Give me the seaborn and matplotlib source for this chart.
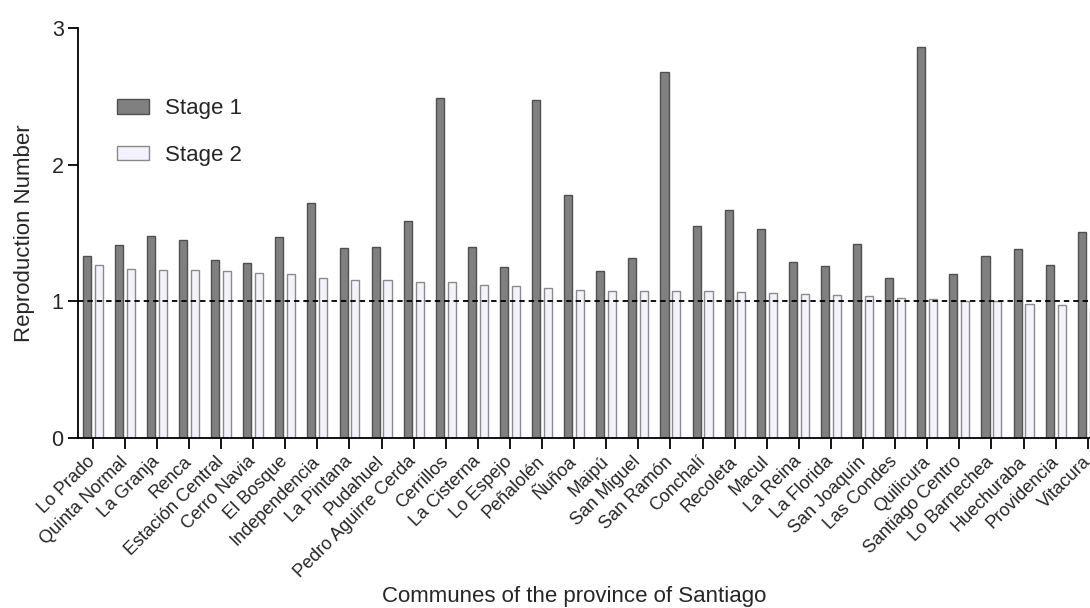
import matplotlib
matplotlib.use("Agg")
import matplotlib.pyplot as plt
import seaborn as sns
import pandas as pd
from matplotlib.patches import Patch

communes = [
    "Lo Prado", "Quinta Normal", "La Granja", "Renca", "Estación Central",
    "Cerro Navia", "El Bosque", "Independencia", "La Pintana", "Pudahuel",
    "Pedro Aguirre Cerda", "Cerrillos", "La Cisterna", "Lo Espejo", "Peñalolén",
    "Ñuñoa", "Maipú", "San Miguel", "San Ramón", "Conchalí", "Recoleta",
    "Macul", "La Reina", "La Florida", "San Joaquín", "Las Condes",
    "Quilicura", "Santiago Centro", "Lo Barnechea", "Huechuraba",
    "Providencia", "Vitacura",
]
stage1 = [
    1.33, 1.41, 1.48, 1.45, 1.30, 1.28, 1.47, 1.72, 1.39, 1.40,
    1.59, 2.49, 1.40, 1.25, 2.47, 1.78, 1.22, 1.32, 2.68, 1.55, 1.67,
    1.53, 1.29, 1.26, 1.42, 1.17, 2.86, 1.20, 1.33, 1.38, 1.27, 1.51,
]
stage2 = [
    1.27, 1.24, 1.23, 1.23, 1.225, 1.21, 1.20, 1.17, 1.16, 1.155,
    1.14, 1.14, 1.12, 1.11, 1.095, 1.085, 1.08, 1.08, 1.08, 1.075, 1.07,
    1.065, 1.055, 1.05, 1.04, 1.025, 1.02, 1.005, 1.00, 0.985, 0.975, 0.95,
]
stages = ["Stage 1", "Stage 2"]

df = pd.DataFrame({
    "Commune": communes * 2,
    "R": stage1 + stage2,
    "Stage": [stages[0]] * len(communes) + [stages[1]] * len(communes),
})

sns.set_style("ticks")
plt.rcParams["font.family"] = ["Liberation Sans", "DejaVu Sans"]

fill_colors = {"Stage 1": "#808080", "Stage 2": "#f3f2fd"}
edge_colors = {"Stage 1": "#505050", "Stage 2": "#8a8a8a"}

fig = plt.figure(figsize=(10.9, 6.08), dpi=100)
ax = fig.add_axes([0.0718, 0.279, 1.0 - 0.0718, 0.9544 - 0.279])

sns.barplot(
    data=df, x="Commune", y="R", hue="Stage", order=communes,
    hue_order=stages, palette=fill_colors, width=0.74, gap=0.32,
    linewidth=1.0, ax=ax, legend=False,
)

# per-stage outline colours
for container, stage in zip(ax.containers, stages):
    for bar in container:
        bar.set_edgecolor(edge_colors[stage])

ax.axhline(1.0, color="black", linewidth=1.3, linestyle=(0, (3.0, 2.2)), zorder=3)

ax.set_ylim(0, 3)
ax.set_yticks([0, 1, 2, 3])
ax.set_xlim(-0.45, 31.07)

sns.despine(ax=ax, right=True, top=True)
for side in ("left", "bottom"):
    ax.spines[side].set_linewidth(1.3)
    ax.spines[side].set_color("black")

ax.tick_params(axis="y", length=7.5, width=1.3, labelsize=15.5, pad=3, color="black")
ax.tick_params(axis="x", length=8, width=1.3, labelsize=13, pad=7, color="black")
for lbl in ax.get_xticklabels():
    lbl.set_rotation(45)
    lbl.set_ha("right")
    lbl.set_va("center")
    lbl.set_rotation_mode("anchor")

ax.set_ylabel("Reproduction Number", fontsize=16, labelpad=12)
ax.set_xlabel("Communes of the province of Santiago", fontsize=16)
ax.xaxis.set_label_coords(0.49, -0.386)
ax.xaxis.label.set_va("center")

handles = [
    Patch(facecolor=fill_colors[s], edgecolor=edge_colors[s], linewidth=1.0)
    for s in stages
]
ax.legend(
    handles, stages, loc="upper left", bbox_to_anchor=(0.019, 0.877),
    frameon=False, fontsize=16, handlelength=1.4, handleheight=0.65,
    handletextpad=0.75, labelspacing=1.15,
)

fig.savefig("out.png", dpi=100)
